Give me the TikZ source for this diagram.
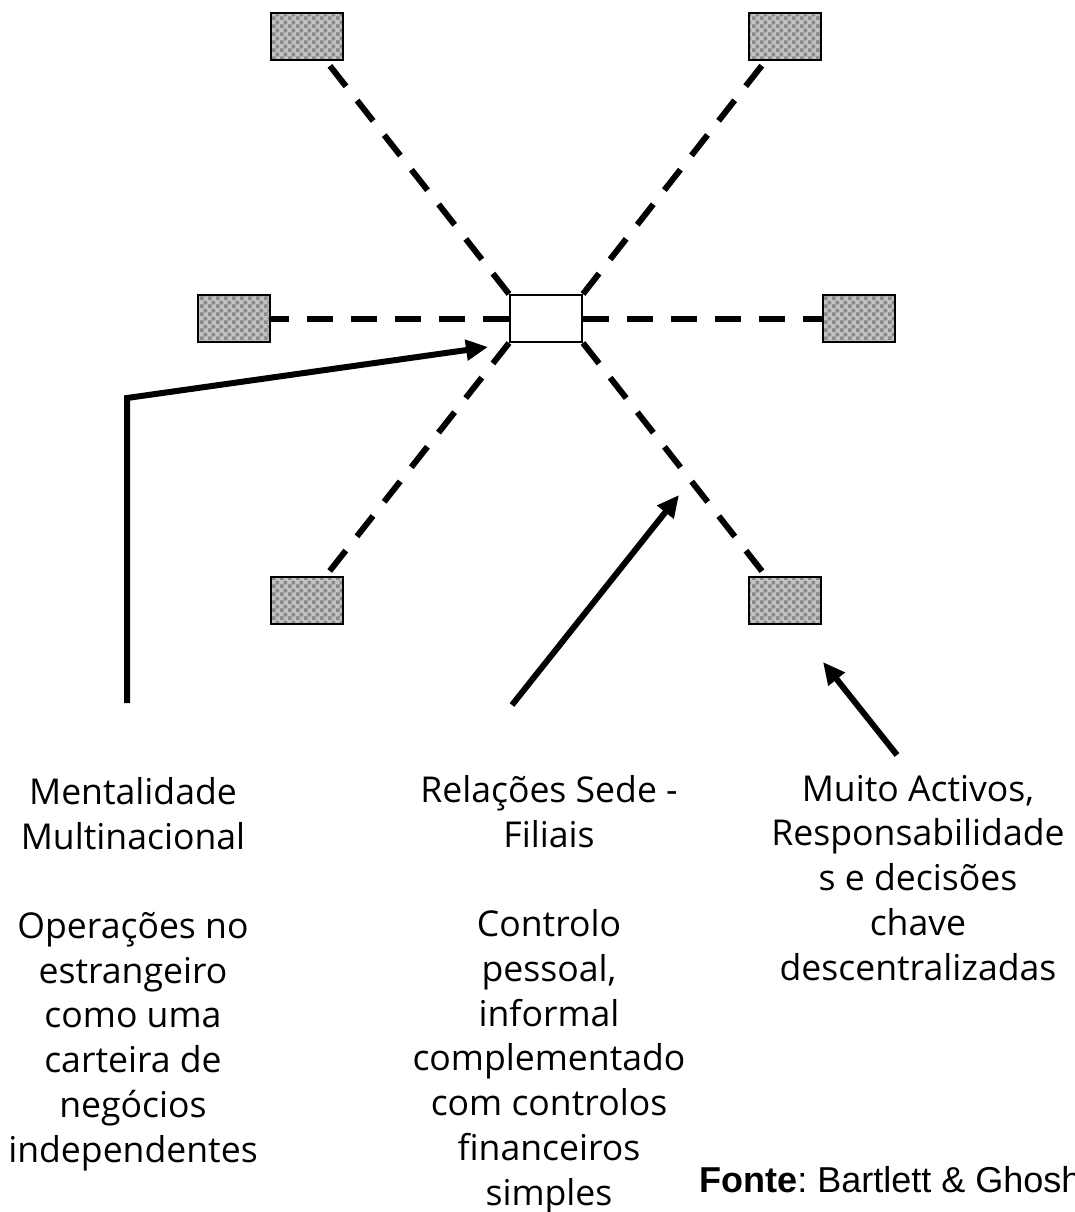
\documentclass[tikz,border=0pt]{standalone}
\usepackage{fontspec}
\usepackage{tikz}
\usetikzlibrary{patterns}
\usetikzlibrary{arrows.meta}
\setmainfont{Open Sans}
\newfontfamily\sourcefont{Liberation Sans}
\frenchspacing

\pgfdeclarepatternformonly{finechecker}{\pgfqpoint{0pt}{0pt}}{\pgfqpoint{4pt}{4pt}}{\pgfqpoint{4pt}{4pt}}{
  \pgfpathrectangle{\pgfqpoint{0pt}{0pt}}{\pgfqpoint{2pt}{2pt}}
  \pgfpathrectangle{\pgfqpoint{2pt}{2pt}}{\pgfqpoint{2pt}{2pt}}
  \pgfusepath{fill}}

\tikzset{
  subbox/.style={draw,line width=1pt,preaction={fill=black!24},
    pattern=finechecker,pattern color=black!46,
    minimum width=36pt,minimum height=23.5pt,inner sep=0pt},
  hqbox/.style={draw,line width=1pt,fill=white,
    minimum width=36pt,minimum height=23.5pt,inner sep=0pt},
  link/.style={line width=3pt,dash pattern=on 13pt off 9pt},
  pointer/.style={line width=3pt,-{Triangle[length=11pt,width=10pt]}},
  caption/.style={align=center,anchor=base,inner sep=0pt,
    font=\fontsize{17.8pt}{22.35pt}\selectfont}
}

\begin{document}
\begin{tikzpicture}[x=0.5pt,y=-0.5pt]
  \useasboundingbox
    (0,0)
    rectangle
    (1075,1212);
  \node[hqbox] (hq) at (546,318.5) {};
  \node[subbox] (subTL) at (306.5,36) {};
  \node[subbox] (subTR) at (785,36) {};
  \node[subbox] (subL) at (234,318.5) {};
  \node[subbox] (subR) at (858.5,318.5) {};
  \node[subbox] (subBL) at (306.5,600.5) {};
  \node[subbox] (subBR) at (785,600.5) {};
  \draw[link]
    (hq.north west)
    --
    (subTL);
  \draw[link]
    (hq.north east)
    --
    (subTR);
  \draw[link]
    (hq.west)
    --
    (subL);
  \draw[link]
    (hq.east)
    --
    (subR);
  \draw[link]
    (hq.south west)
    --
    (subBL);
  \draw[link]
    (hq.south east)
    --
    (subBR);
  \node[caption] (multi) at (133,1162)
    {Mentalidade\\Multinacional\\[22.35pt]Operações no\\estrangeiro\\como uma\\carteira de\\negócios\\independentes};
  \node[caption] (rel) at (549,1205)
    {Relações Sede -\\Filiais\\[22.35pt]Controlo\\pessoal,\\informal\\complementado\\com controlos\\financeiros\\simples};
  \node[caption] (resp) at (918,980)
    {Muito Activos,\\Responsabilidade\\s e decisões\\chave\\descentralizadas};
  \node[anchor=base west,inner sep=0pt,font=\sourcefont\fontsize{18pt}{21pt}\selectfont]
    (fonte) at (699,1192) {\textbf{Fonte}: Bartlett \& Ghosh};
  \coordinate (multiStart) at (127,703);
  \coordinate (multiBend) at (127,398);
  \coordinate (multiTip) at (488,347);
  \coordinate (relStart) at (512,705);
  \coordinate (relTip) at (679,495);
  \coordinate (respStart) at (897,755);
  \coordinate (respTip) at (823,662);
  \draw[pointer]
    (multiStart)
    --
    (multiBend)
    --
    (multiTip);
  \draw[pointer]
    (relStart)
    --
    (relTip);
  \draw[pointer]
    (respStart)
    --
    (respTip);
\end{tikzpicture}
\end{document}
